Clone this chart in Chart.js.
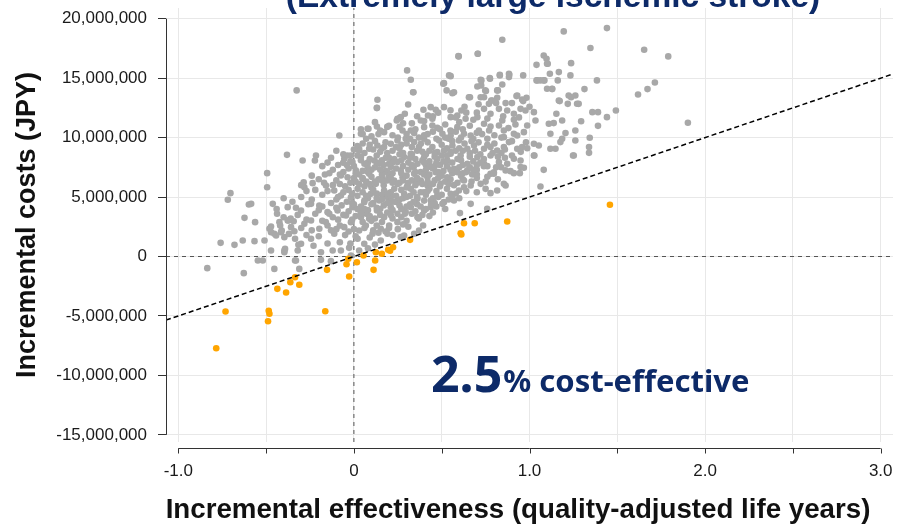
<!DOCTYPE html>
<html>
<head>
<meta charset="utf-8">
<script src="https://cdn.jsdelivr.net/npm/chart.js@4.4.1/dist/chart.umd.min.js"></script>
<style>
  html, body { margin: 0; padding: 0; background: #fff; }
  #wrap { width: 898px; height: 524px; }
</style>
</head>
<body>
<div id="wrap"><canvas id="cePlane" width="898" height="524"></canvas></div>
<script>
// probabilistic sensitivity analysis: [incremental QALY, incremental cost in million JPY]
const grayPoints = [
  [0.845,18.23],[1.195,18.93],[1.441,19.21],[0.705,17.05],[0.595,16.85],[1.347,17.53],[1.653,17.39],[1.790,16.83],
  [1.081,16.91],[1.097,16.63],[1.100,16.21],[1.040,16.12],[1.237,16.26],[0.303,15.65],
  [0.324,14.86],[0.551,15.17],[0.722,14.86],[0.775,14.95],[0.831,15.28],[0.883,15.37],[0.883,15.09],[0.964,15.23],[1.044,14.81],[1.081,14.81],[1.116,15.37],[1.167,15.51],[1.161,14.81],[1.233,15.23],[0.725,14.39],[0.509,14.53],[0.845,14.47],
  [0.337,13.82],[-0.326,13.97],[0.134,13.18],[0.528,13.97],[0.561,13.74],[0.655,13.40],[0.752,13.91],[0.820,13.97],[0.816,13.35],[0.864,12.90],[0.722,13.40],[0.788,13.12],[0.930,13.54],[0.983,13.35],[0.964,13.07],[1.100,14.11],[1.129,14.11],[1.223,13.54],[1.261,13.54],[1.167,13.12],[1.280,12.84],[1.218,12.84],[0.769,12.84],
  [1.618,13.63],[1.672,14.08],[1.714,14.64],[1.902,11.25],[1.313,14.08],[1.384,14.81],[1.358,12.14],[1.390,12.14],[1.492,12.28],[1.441,11.72],[1.390,10.99],[1.294,11.38],[1.343,9.99],[1.339,9.20],[1.339,8.72],[1.252,8.50],[1.271,12.85],[1.237,13.40],
  [0.131,12.51],[0.309,12.79],[0.396,12.34],[0.4375,12.56],[0.466,12.34],[0.422,11.86],[0.381,11.44],[0.447,11.58],[0.612,12.28],[0.589,11.86],[0.636,11.58],[0.703,11.72],[0.741,12.42],[0.778,12.00],[0.826,12.42],[0.873,12.28],[0.911,12.00],[0.949,12.42],[0.977,12.28],[1.025,12.14],[1.034,11.44],[1.153,12.00],[1.186,11.44],[1.138,11.22],[1.110,11.16],[0.551,11.72],[0.845,11.44],[0.911,11.50],
  [-0.083,10.18],[0.040,10.32],[0.078,10.74],[0.131,10.94],[0.172,10.46],[0.244,11.44],[0.263,11.67],[0.277,10.60],[0.324,10.60],[0.343,10.38],[0.400,10.88],[0.447,11.02],[0.475,10.82],[0.504,10.32],[0.551,10.18],[0.589,10.88],[0.627,10.32],[0.665,10.18],[0.712,10.60],[0.741,11.16],[0.778,10.94],[0.826,11.02],[0.854,10.60],[0.911,10.32],[0.930,10.18],[0.968,10.46],[0.854,10.04],[0.987,11.02],[1.119,10.32],[1.205,10.38],[1.261,10.60],[1.186,9.90],[1.261,9.76],
  [-0.017,8.50],[0.030,9.06],[0.087,9.06],[0.134,9.34],[0.172,9.20],[0.210,9.48],[0.248,9.76],[0.295,9.90],[0.343,9.62],[0.381,9.48],[0.400,9.90],[0.447,9.20],[0.485,9.76],[0.513,8.92],[0.561,9.34],[0.598,9.76],[0.646,9.06],[0.684,9.34],[0.741,9.06],[0.778,9.20],[0.816,8.92],[0.854,9.20],[0.883,9.62],[0.930,9.06],[0.958,9.20],[0.987,9.11],[1.025,9.48],[1.053,9.34],[1.119,9.06],[1.148,9.06],[1.176,9.62],[1.248,8.50],[0.475,8.78],
  [-0.381,8.55],[-0.292,8.08],[-0.216,8.50],[-0.222,8.08],[-0.055,8.22],[-0.036,8.50],[-0.008,7.94],[0.040,8.36],[0.078,7.52],[0.116,8.08],[0.144,7.80],[0.182,8.30],[0.210,7.52],[0.248,7.94],[0.286,8.36],[0.324,8.64],[0.362,7.80],[0.400,8.36],[0.4375,7.52],[0.475,8.22],[0.532,8.08],[0.570,7.38],[0.608,8.50],[0.646,7.80],[0.703,8.36],[0.741,7.80],[0.778,8.50],[0.826,7.94],[0.873,7.80],[0.911,8.22],[0.949,8.08],[1.025,8.50],[1.081,7.29],[0.646,7.24],[0.551,8.64],[-0.061,7.88],
  [-0.494,7.01],[-0.165,6.90],[-0.074,6.81],[-0.036,6.67],[0.011,7.24],[0.049,6.53],[0.087,6.95],[0.125,6.11],[0.163,6.67],[0.191,7.09],[0.229,6.39],[0.277,6.67],[0.305,5.97],[0.343,6.95],[0.381,6.39],[0.419,6.67],[0.466,7.09],[0.494,6.11],[0.532,6.67],[0.589,7.09],[0.627,6.39],[0.674,6.90],[0.722,6.11],[0.778,6.95],[0.797,7.09],[0.854,6.11],[0.911,7.01],[0.949,7.52],[0.267,7.24],[0.419,5.97],[0.968,7.46],[0.892,7.18],[0.839,7.51],
  [-0.494,5.83],[-0.286,6.25],[-0.282,5.83],[-0.235,6.17],[-0.159,5.97],[-0.112,5.55],[-0.074,5.13],[-0.017,4.99],[0.021,5.69],[0.059,4.57],[0.097,5.27],[0.144,4.71],[0.172,5.55],[0.210,4.99],[0.248,4.57],[0.286,5.27],[0.324,5.69],[0.362,4.85],[0.400,5.41],[0.4375,4.71],[0.475,5.13],[0.513,4.57],[0.551,5.27],[0.598,5.55],[0.627,5.83],[0.665,5.97],[0.750,5.69],[0.778,5.33],[0.816,5.55],[0.864,5.97],[1.0625,5.89],
  [-0.585,4.43],[-0.462,4.43],[-0.377,4.15],[-0.301,3.87],[-0.244,4.43],[-0.197,4.29],[-0.150,3.73],[-0.093,3.87],[-0.045,3.45],[-0.008,4.15],[0.040,3.73],[0.087,3.17],[0.131,3.87],[0.172,3.31],[0.210,4.15],[0.248,3.59],[0.295,3.73],[0.324,4.15],[0.362,3.31],[0.400,3.87],[0.4375,4.15],[0.504,4.43],[0.570,4.71],[0.665,4.43],[0.759,4.01],[0.604,3.65],
  [-0.5625,2.89],[-0.472,2.52],[-0.4375,3.59],[-0.377,3.03],[-0.343,2.97],[-0.339,2.13],[-0.282,2.75],[-0.244,3.03],[-0.197,2.33],[-0.150,2.61],[-0.112,1.91],[-0.055,2.47],[-0.017,2.89],[0.030,2.19],[0.068,2.61],[0.106,1.91],[0.153,2.33],[0.201,2.61],[0.248,2.89],[0.286,1.77],[0.343,1.91],[0.371,2.19],[0.394,2.61],
  [-0.566,1.29],[-0.509,1.35],[-0.453,1.91],[-0.415,2.05],[-0.396,0.50],[-0.301,1.07],[-0.244,1.49],[-0.1875,0.36],[-0.121,0.50],[-0.074,0.50],[-0.027,0.73],[0.021,1.49],[0.059,1.07],[0.153,1.35],[0.191,1.91],[0.267,1.63],[-0.472,0.50],
  [-0.547,-0.34],[-0.519,-0.34],[-0.453,-1.04],[-0.330,-0.34],[-0.311,-1.04],[-0.1875,-0.28],[-0.131,-0.39],[-0.017,0.08],[0.030,0.50],
  [-0.703,5.33],[-0.718,4.77],[-0.759,1.15],[-0.835,-0.98],[-0.680,0.98],[-0.633,1.35],[-0.623,3.25],[-0.598,4.37],[-0.627,-1.40],
  [-0.481,2.33],[-0.472,2.05],[-0.443,1.77],[-0.424,2.89],[-0.411,2.19],[-0.396,1.63],[-0.392,0.64],[-0.396,0.36],[-0.373,3.03],[-0.358,2.47],[-0.335,1.49],[-0.320,0.50],[-0.335,-0.34],[-0.316,0.98],
  [0.050,10.30],[0.083,10.74],[0.248,11.58],[0.267,11.72],[0.513,14.58],[0.542,15.23],[0.513,12.56],[0.339,13.82],[0.131,12.48],
  [0.926,13.49],[0.958,13.21],[0.885,15.29],[0.831,15.23],[0.774,15.00],[0.726,14.81],[0.703,14.30],[0.748,13.97],[0.816,13.97],[0.782,13.12],[0.741,13.40],[0.661,13.40],[0.570,13.82],[0.597,16.83],[0.706,17.05],[1.104,16.21],[1.040,14.81],[1.062,14.81],[1.085,14.81],[1.129,14.08],[1.172,13.07],[1.028,8.50],[0.945,7.01],[0.797,6.96],[0.864,7.24],
  // dense core
  [0.10,10.1],[0.22,10.2],[0.30,10.3],[0.37,10.0],[0.45,10.5],[0.52,10.0],[0.58,10.5],[0.68,9.9],[0.73,10.3],[0.80,10.2],
  [0.05,9.5],[0.12,9.7],[0.18,9.6],[0.27,9.4],[0.33,9.2],[0.42,9.6],[0.50,9.4],[0.56,9.7],[0.63,9.5],[0.71,9.6],[0.80,9.5],[0.90,9.7],
  [-0.10,8.9],[0.00,9.0],[0.06,8.7],[0.15,8.8],[0.22,8.9],[0.28,8.7],[0.36,8.9],[0.41,8.6],[0.50,8.5],[0.58,8.9],[0.66,8.7],[0.72,8.6],[0.84,8.7],[0.95,8.8],
  [-0.15,7.9],[-0.02,8.0],[0.08,7.9],[0.16,8.1],[0.23,8.2],[0.31,7.9],[0.35,8.2],[0.43,8.0],[0.49,7.7],[0.56,7.9],[0.62,7.7],[0.68,8.0],[0.76,7.6],[0.86,8.3],
  [-0.12,7.3],[-0.03,7.4],[0.05,7.2],[0.12,7.5],[0.18,7.2],[0.24,7.4],[0.31,7.3],[0.38,7.1],[0.45,7.4],[0.51,7.2],[0.60,7.5],[0.70,7.3],[0.74,7.6],
  [-0.20,6.5],[-0.10,6.4],[0.00,6.6],[0.07,6.3],[0.14,6.5],[0.20,6.8],[0.26,6.2],[0.33,6.4],[0.40,6.9],[0.46,6.4],[0.55,6.5],[0.61,6.8],[0.70,6.6],[0.82,6.5],
  [-0.22,5.6],[-0.05,5.9],[0.03,6.1],[0.10,5.8],[0.17,6.0],[0.23,5.7],[0.30,5.8],[0.36,6.2],[0.43,5.7],[0.49,5.9],[0.57,6.0],[0.64,5.5],[0.70,5.4],
  [-0.30,5.0],[-0.18,5.2],[-0.06,5.4],[0.02,5.1],[0.08,4.9],[0.13,5.3],[0.19,5.0],[0.26,4.8],[0.32,5.1],[0.38,5.4],[0.45,4.9],[0.50,5.2],[0.60,4.9],
  [-0.35,4.6],[-0.26,4.4],[-0.13,4.5],[-0.04,4.6],[0.04,4.2],[0.11,4.5],[0.17,4.3],[0.23,4.6],[0.30,4.2],[0.36,4.4],[0.41,4.0],[0.47,4.2],
  [-0.40,3.3],[-0.32,3.5],[-0.22,3.6],[-0.12,3.3],[-0.03,3.8],[0.01,3.4],[0.07,3.6],[0.12,3.2],[0.19,3.7],[0.27,3.3],[0.33,3.6],[0.43,3.4],
  [-0.42,2.6],[-0.30,2.4],[-0.24,2.2],[-0.16,2.9],[-0.08,2.6],[0.00,2.3],[0.05,2.9],[0.13,2.6],[0.18,2.1],[0.25,2.3],[0.31,2.5],
  [0.20,11.0],[0.33,11.2],[0.40,11.4],[0.52,11.1],[0.60,11.3],[0.66,11.0],[0.92,11.1],[0.70,12.1],
  [0.15,10.6],[0.26,10.9],[0.35,10.7],[0.42,10.3],[0.49,10.7],[0.55,10.6],[0.62,10.7],[0.70,10.4],[0.77,10.6],[0.88,10.8],
  [0.29,12.0],[0.36,11.8],[0.48,12.1],[0.55,12.3],[0.64,12.1],[0.68,11.5],[0.76,11.6],[0.85,11.8],[0.94,11.7],[1.00,12.6],
  [0.02,9.3],[0.09,9.4],[0.16,9.1],[0.24,9.2],[0.30,9.5],[0.37,9.2],[0.43,8.9],[0.53,9.1],[0.60,9.1],[0.67,9.7],[0.76,9.4],[0.86,9.0],[0.98,9.6],
  [-0.13,8.3],[-0.06,8.6],[0.02,8.5],[0.09,8.2],[0.13,8.5],[0.20,8.3],[0.26,8.6],[0.32,8.3],[0.39,8.1],[0.46,8.4],[0.53,8.5],[0.59,8.2],[0.66,8.4],[0.74,8.2],[0.82,8.4],[0.90,8.5],
  [-0.18,7.6],[-0.09,7.7],[0.00,7.6],[0.06,7.8],[0.10,7.3],[0.17,7.7],[0.22,7.9],[0.28,7.6],[0.34,7.5],[0.41,7.7],[0.47,7.9],[0.53,7.6],[0.58,7.2],[0.66,7.5],[0.72,7.9],[0.81,7.5],
  [-0.24,6.8],[-0.14,7.0],[-0.06,7.1],[0.03,6.9],[0.10,6.7],[0.16,6.9],[0.22,7.0],[0.30,6.8],[0.36,6.6],[0.43,6.9],[0.50,6.8],[0.56,7.0],[0.64,7.1],[0.70,6.9],[0.76,6.7],
  [-0.30,6.0],[-0.17,6.2],[-0.08,6.1],[0.01,6.3],[0.06,5.9],[0.12,6.3],[0.19,6.4],[0.25,6.1],[0.31,6.2],[0.39,6.1],[0.45,6.1],[0.52,6.3],[0.59,6.2],[0.67,6.3],[0.75,6.3],
  [-0.27,5.5],[-0.15,5.5],[-0.03,5.6],[0.05,5.4],[0.11,5.6],[0.16,5.2],[0.21,5.4],[0.27,5.6],[0.34,5.4],[0.41,5.2],[0.47,5.5],[0.53,5.7],[0.58,5.3],
  [-0.40,4.9],[-0.24,4.8],[-0.10,4.8],[-0.01,4.5],[0.06,4.7],[0.10,4.4],[0.16,4.8],[0.21,4.6],[0.28,4.9],[0.34,4.6],[0.40,4.7],[0.46,4.5],[0.54,4.8],
  [-0.44,4.0],[-0.33,4.1],[-0.20,3.9],[-0.10,4.1],[0.02,4.0],[0.08,3.9],[0.15,4.0],[0.22,3.9],[0.27,4.0],[0.35,3.8],[0.45,3.7],[0.52,4.0],
  [-0.36,3.2],[-0.27,3.1],[-0.18,3.0],[-0.09,3.1],[-0.01,3.1],[0.04,3.3],[0.10,3.0],[0.16,2.9],[0.22,3.2],[0.30,3.0],[0.37,3.2],
  [-0.37,1.9],[-0.27,1.8],[-0.20,1.7],[-0.13,2.2],[-0.05,1.8],[0.01,1.7],[0.09,1.6],[0.14,2.0],[0.22,1.8],
  [-0.23,0.9],[-0.15,1.1],[-0.08,1.2],[-0.02,1.1],[0.08,0.7],[0.12,1.0],
  [0.04,10.7],[0.12,11.3],[0.19,10.9],[0.28,11.2],[0.45,11.8],[0.58,11.7],[0.63,12.6],[0.71,12.8],[0.81,12.9],[0.90,12.9],
  [0.07,9.9],[0.14,10.3],[0.25,10.0],[0.32,9.9],[0.40,10.2],[0.47,9.9],[0.54,9.9],[0.61,10.0],[0.76,9.9],[0.84,10.0],
  [0.03,8.9],[0.11,9.0],[0.19,8.7],[0.26,9.1],[0.33,8.6],[0.39,8.8],[0.46,8.7],[0.55,8.8],[0.62,8.9],[0.69,8.9],[0.79,8.7],
  [-0.04,7.7],[0.04,8.1],[0.13,7.9],[0.20,7.8],[0.27,8.1],[0.33,7.7],[0.40,7.9],[0.46,7.6],[0.51,8.0],[0.61,8.1],[0.70,7.7],
  [-0.08,6.9],[0.01,7.0],[0.08,7.1],[0.15,7.3],[0.21,6.6],[0.27,7.0],[0.35,7.1],[0.41,7.3],[0.48,7.1],[0.55,7.3],[0.62,7.0],[0.68,7.3],
  [-0.12,6.0],[-0.02,6.2],[0.05,6.6],[0.09,6.1],[0.16,6.4],[0.22,6.2],[0.28,6.4],[0.35,6.0],[0.42,6.3],[0.48,6.6],[0.54,6.1],[0.62,6.5],
  [-0.09,5.0],[-0.01,5.3],[0.07,5.1],[0.13,4.9],[0.19,5.3],[0.24,5.1],[0.30,5.0],[0.36,5.0],[0.42,5.5],[0.48,5.0],[0.56,5.0],
  [-0.18,4.2],[-0.07,4.3],[0.00,4.4],[0.06,4.0],[0.13,4.1],[0.19,4.5],[0.26,4.3],[0.32,4.4],[0.38,4.2],[0.44,4.4],
  [-0.14,3.6],[-0.06,3.5],[0.04,3.6],[0.09,3.4],[0.15,3.5],[0.21,3.5],[0.29,3.6],[0.39,3.5],
  [-0.10,2.3],[-0.03,2.1],[0.06,2.4],[0.11,2.2],[0.20,2.4],[0.28,2.7]
];

// iterations below the willingness-to-pay line (cost-effective)
const orangePoints = [
  [-0.731,-4.63],[-0.784,-7.71],[-0.485,-4.57],[-0.481,-4.82],[-0.489,-5.44],[-0.436,-2.72],[-0.386,-3.03],[-0.362,-2.16],
  [-0.335,-1.74],[-0.311,-2.38],[-0.163,-4.60],[-0.153,-1.12],[-0.042,-0.65],[-0.027,-1.68],[-0.032,-0.19],[0.017,-0.48],
  [0.055,0.08],[0.112,-1.12],[0.121,-0.34],[0.125,0.36],[0.159,0.23],[0.195,0.56],[0.206,0.48],[0.223,0.78],[0.320,1.40],
  [0.608,1.96],[0.612,1.85],[0.627,2.80],[0.688,2.80],[0.873,2.94],[1.458,4.35]
];

const wtp = 5000000; // JPY per QALY
const qalyTicks = [-1, -0.5, 0, 0.5, 1, 1.5, 2, 2.5, 3];
const qalyLabels = ['-1.0', '', '0', '', '1.0', '', '2.0', '', '3.0'];
const costTicks = [-15e6, -10e6, -5e6, 0, 5e6, 10e6, 15e6, 20e6];
const xMin = -1.07, xMax = 3.07;
const yMin = -15.6e6, yMax = 20.9e6;

const navy = '#0d2a68';
const fam = '"Liberation Sans", Arial, sans-serif';
const narrow = '"Liberation Sans Narrow", "Arial Narrow", ' + fam;
const xTitle = 'Incremental effectiveness (quality-adjusted life years)';

const toXY = p => ({ x: p[0], y: p[1] * 1e6 });

const ceDecor = {
  id: 'ceDecor',
  afterDraw(chart) {
    const { ctx, chartArea: a, scales: { x, y } } = chart;
    ctx.save();
    ctx.strokeStyle = '#333';
    ctx.lineWidth = 1;
    // y axis line only over the tick range
    ctx.beginPath();
    ctx.moveTo(a.left + 0.5, y.getPixelForValue(costTicks[costTicks.length - 1]));
    ctx.lineTo(a.left + 0.5, y.getPixelForValue(costTicks[0]));
    ctx.stroke();
    // x axis drawn a little below the panel
    const ay = Math.round(a.bottom + 6) + 0.5;
    ctx.beginPath();
    ctx.moveTo(x.getPixelForValue(qalyTicks[0]), ay);
    ctx.lineTo(x.getPixelForValue(qalyTicks[qalyTicks.length - 1]), ay);
    qalyTicks.forEach(v => {
      const px = Math.round(x.getPixelForValue(v)) + 0.5;
      ctx.moveTo(px, ay);
      ctx.lineTo(px, ay + 5);
    });
    ctx.stroke();

    // x axis title, condensed and fitted to the width of the original
    ctx.fillStyle = '#111';
    ctx.textAlign = 'center';
    ctx.textBaseline = 'alphabetic';
    ctx.font = 'bold 33px ' + narrow;
    const tw = ctx.measureText(xTitle).width;
    ctx.font = 'bold ' + (33 * 704 / tw).toFixed(1) + 'px ' + narrow;
    ctx.fillText(xTitle, 518, 518);

    // subgroup title, cut off at the top edge
    ctx.fillStyle = navy;
    ctx.font = 'bold 33.5px ' + fam;
    ctx.fillText('(Extremely large ischemic stroke)', 553, 7);

    // share of cost-effective iterations
    ctx.textAlign = 'left';
    ctx.font = 'bold 50px "Noto Sans", ' + fam;
    ctx.fillText('2.5', 431, 392);
    const w = ctx.measureText('2.5').width;
    ctx.font = 'bold 31px "Noto Sans", ' + fam;
    ctx.fillText('% cost-effective', 431 + w + 1, 392);
    ctx.restore();
  }
};

new Chart(document.getElementById('cePlane'), {
  type: 'scatter',
  data: {
    datasets: [
      {
        label: 'WTP',
        data: [{ x: xMin, y: wtp * xMin }, { x: xMax, y: wtp * xMax }],
        showLine: true, pointRadius: 0, borderColor: '#000', borderWidth: 1.5,
        borderDash: [5, 3], order: 0
      },
      {
        label: 'cost-effective',
        data: orangePoints.map(toXY),
        pointRadius: 3.3, pointBackgroundColor: '#ffa500', pointBorderWidth: 0, order: 1
      },
      {
        label: 'not cost-effective',
        data: grayPoints.map(toXY),
        pointRadius: 3.3, pointBackgroundColor: '#a8a8a8', pointBorderWidth: 0, order: 2
      },
      {
        label: 'zero cost',
        data: [{ x: xMin, y: 0 }, { x: xMax, y: 0 }],
        showLine: true, pointRadius: 0, borderColor: '#555', borderWidth: 1,
        borderDash: [4, 4], order: 3
      },
      {
        label: 'zero effect',
        data: [{ x: 0, y: yMin }, { x: 0, y: yMax }],
        showLine: true, pointRadius: 0, borderColor: '#555', borderWidth: 1,
        borderDash: [4, 4], order: 3
      }
    ]
  },
  options: {
    responsive: false,
    animation: false,
    events: [],
    layout: { padding: { top: 8, right: 5, left: 0, bottom: 0 } },
    plugins: { legend: { display: false }, tooltip: { enabled: false } },
    scales: {
      x: {
        type: 'linear', min: xMin, max: xMax,
        afterBuildTicks: s => { s.ticks = qalyTicks.map(v => ({ value: v })); },
        afterFit: s => { s.height = 82; s.paddingLeft = 0; s.paddingRight = 0; },
        grid: { color: '#e8e8e8', drawTicks: false },
        border: { display: false },
        ticks: {
          padding: 19, color: '#1a1a1a', autoSkip: false, maxRotation: 0,
          font: { family: fam, size: 17 },
          callback: (v, i) => qalyLabels[i]
        },
        title: { display: false }
      },
      y: {
        type: 'linear', min: yMin, max: yMax,
        afterBuildTicks: s => { s.ticks = costTicks.map(v => ({ value: v })); },
        afterFit: s => { s.width = 166; s.paddingTop = 0; s.paddingBottom = 0; },
        grid: { color: '#e8e8e8', tickColor: '#333', tickLength: 8 },
        border: { display: false },
        ticks: {
          padding: 11, color: '#1a1a1a',
          font: { family: fam, size: 17 },
          callback: v => v.toLocaleString('en-US')
        },
        title: {
          display: true, text: 'Incremental costs (JPY)',
          color: '#111', font: { family: fam, size: 27, weight: 'bold' },
          padding: { top: 11, bottom: 0 }
        }
      }
    }
  },
  plugins: [ceDecor]
});
</script>
</body>
</html>
